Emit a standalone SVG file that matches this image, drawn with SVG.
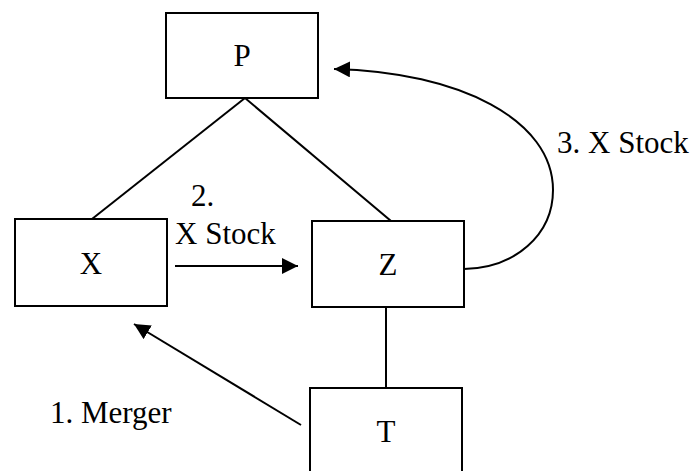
<svg xmlns="http://www.w3.org/2000/svg" width="695" height="471" viewBox="0 0 695 471">
<style>
.box{fill:#fff;stroke:#000;stroke-width:2}
.con{fill:none;stroke:#000;stroke-width:2}
text{font-family:'Liberation Serif','DejaVu Serif',serif;font-size:31px;fill:#000}
</style>
<defs>
<marker id="ah" markerUnits="userSpaceOnUse" markerWidth="18" markerHeight="16" refX="16" refY="8" orient="auto">
<path d="M0,0 L16,8 L0,16 Z" fill="#000"/>
</marker>
</defs>
<rect width="695" height="471" fill="#fff"/>
<g id="connectors">
<line class="con" x1="245" y1="98" x2="92" y2="219"/>
<line class="con" x1="245" y1="98" x2="391" y2="221"/>
<line class="con" x1="386" y1="307" x2="386" y2="388"/>
<line class="con" x1="175" y1="266" x2="298" y2="266" marker-end="url(#ah)"/>
<line class="con" x1="301" y1="425" x2="134" y2="324" marker-end="url(#ah)"/>
<path class="con" d="M464,269 C515,268 553,235 553,190 C553,120 460,72 334,69" marker-end="url(#ah)"/>
</g>
<g id="node-P"><rect class="box" x="166" y="13" width="152" height="85"/><text font-family="Liberation Serif, serif" x="242" y="66" text-anchor="middle">P</text></g>
<g id="node-X"><rect class="box" x="15" y="219" width="152" height="87"/><text font-family="Liberation Serif, serif" x="91" y="274" text-anchor="middle">X</text></g>
<g id="node-Z"><rect class="box" x="312" y="221" width="152" height="86"/><text font-family="Liberation Serif, serif" x="388" y="275" text-anchor="middle">Z</text></g>
<g id="node-T"><rect class="box" x="310" y="388" width="152" height="100"/><text font-family="Liberation Serif, serif" x="386" y="442" text-anchor="middle">T</text></g>
<g id="labels">
<text font-family="Liberation Serif, serif" x="557" y="153">3. X Stock</text>
<text font-family="Liberation Serif, serif" x="191" y="206">2.</text>
<text font-family="Liberation Serif, serif" x="175" y="244">X Stock</text>
<text font-family="Liberation Serif, serif" x="50" y="423">1. Merger</text>
</g>
</svg>
